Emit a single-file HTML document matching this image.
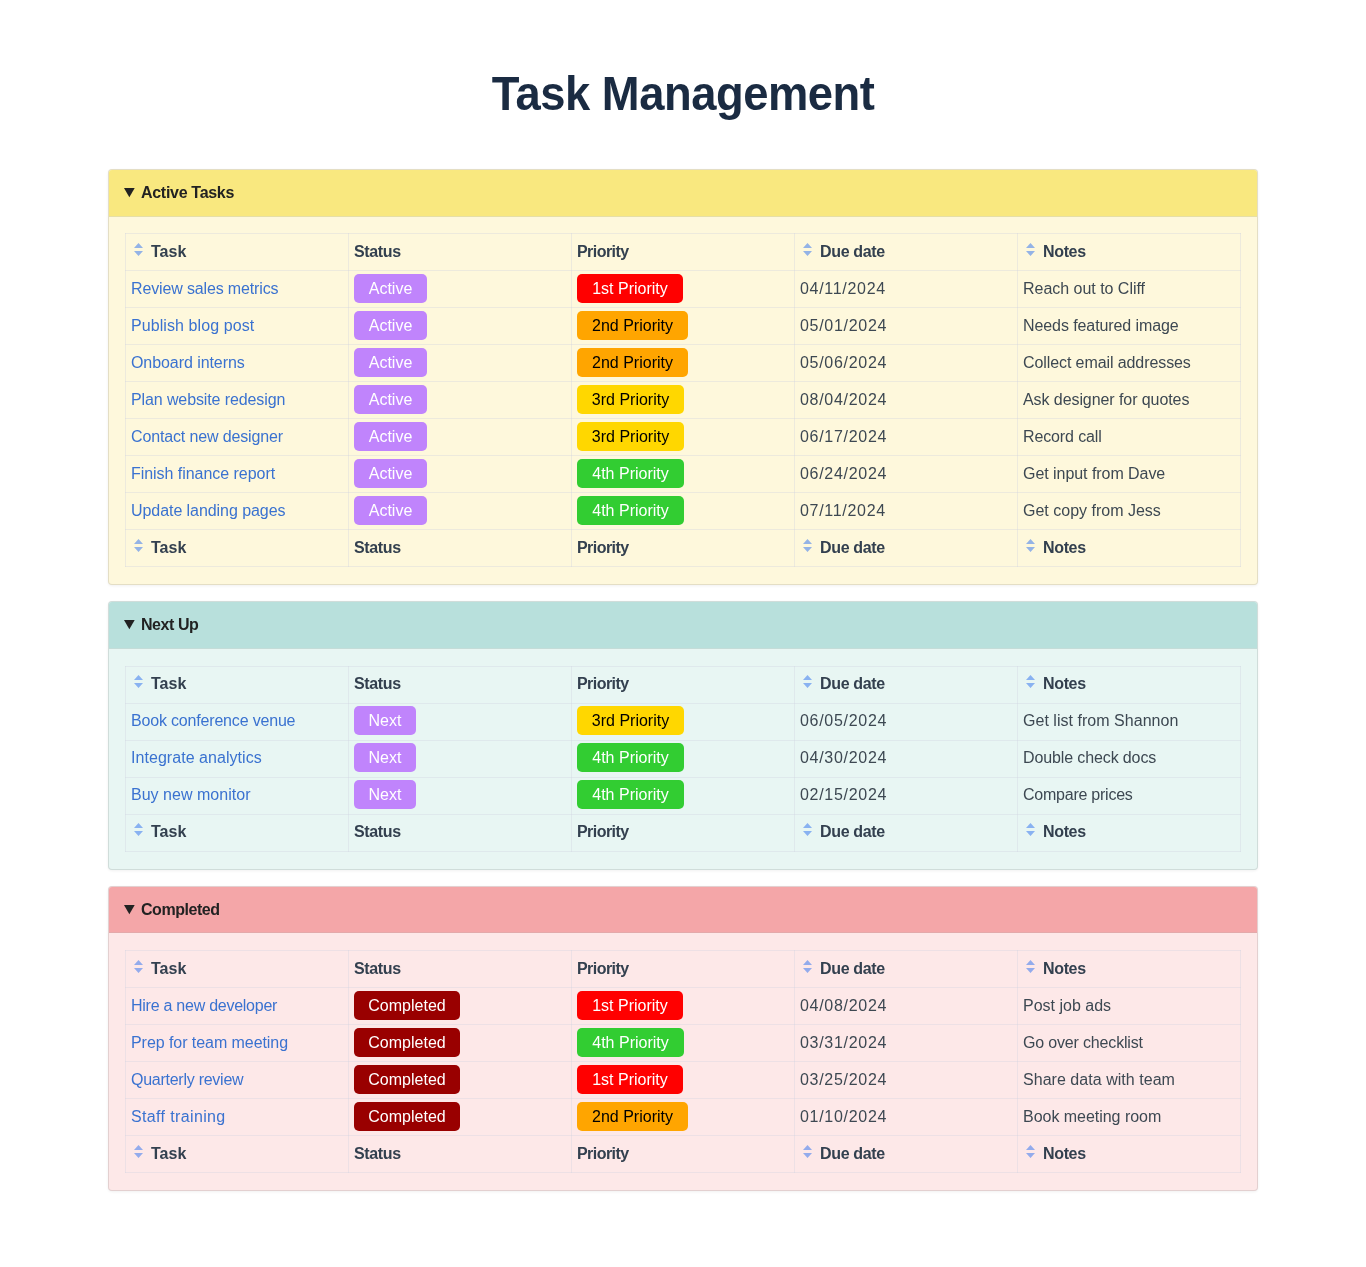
<!DOCTYPE html><html lang="en"><head><meta charset="utf-8"><title>Task Management</title><style>
*{box-sizing:border-box}
html,body{margin:0;padding:0;background:#fff}
body{font-family:"Liberation Sans",sans-serif;font-size:16px;color:#3d4852;width:1366px;height:1267px;overflow:hidden;position:relative}
h1{position:absolute;left:0;top:64px;width:1366px;margin:0;text-align:center;font-size:47.5px;line-height:60px;font-weight:bold;color:#1a2b42;letter-spacing:-0.5px;transform:scaleX(.955);transform-origin:683px 0}
.card{position:absolute;left:108px;width:1150px;border:1px solid rgba(0,0,0,.1);border-radius:4px;box-shadow:0 1px 3px rgba(0,0,0,.06);overflow:hidden}
.card.y{top:169px;height:416px;background:#fef8dc}
.card.t{top:601px;height:269px;background:#e8f6f3}
.card.r{top:886px;height:305px;background:#fde8e8}
.sum{height:47px;display:flex;align-items:center;padding:0 0 1px 15px;font-weight:bold;font-size:16px;color:#222;letter-spacing:-0.3px;border-bottom:1px solid}
.y .sum{background:#f9e87f;border-color:#e6dfa6}
.t .sum{background:#b8e0dc;border-color:#c4dcd8}
.r .sum{background:#f4a6a8;border-color:#e3a9aa;height:46px;margin-bottom:1px;padding-bottom:0}
.tri{margin-right:6px;fill:#222;position:relative;top:0}
.body{padding:16px}
.t .body{padding-top:17px}
table{border-collapse:collapse;width:1116px;table-layout:fixed}
th,td{border:1px solid rgba(208,212,224,.36);height:37px;padding:0 5px;text-align:left;vertical-align:middle;white-space:nowrap;overflow:hidden}
th{font-weight:bold;color:#33404f;letter-spacing:-0.35px}
.so{margin:0 8px 0 3px;position:relative;top:-1px}
a{color:#3a72d0;text-decoration:none}
.d{letter-spacing:.7px}
.bd{display:inline-block;height:29px;line-height:29px;text-align:center;border-radius:5px;font-weight:normal;color:#fff;vertical-align:middle;position:relative;top:-1px}
.pa{background:#c084fc;width:73px}
.nx{background:#c084fc;width:62px}
.co{background:#990000;width:106px}
.p1{background:#ff0000;width:106px}
.p2{background:#ffa500;color:#000;width:111px}
.p3{background:#ffd700;color:#000;width:107px}
.p4{background:#32cd32;width:107px}
.t th,.t td{padding-bottom:2px}

</style></head><body>
<h1>Task Management</h1>
<section class="card y"><div class="sum"><svg class="tri" width="11" height="10" viewBox="0 0 11 10"><path d="M0 0 H10.7 L5.35 9.2 Z"/></svg><span>Active Tasks</span></div><div class="body"><table>
<tr class="h"><th><svg class="so" width="9" height="13" viewBox="0 0 9 13"><path d="M4.5 0 L9 5 H0 Z M4.5 13 L9 8 H0 Z" fill="#3273f0" fill-opacity=".52"/></svg><span style="letter-spacing:0">Task</span></th><th><span>Status</span></th><th><span style="letter-spacing:-.55px">Priority</span></th><th><svg class="so" width="9" height="13" viewBox="0 0 9 13"><path d="M4.5 0 L9 5 H0 Z M4.5 13 L9 8 H0 Z" fill="#3273f0" fill-opacity=".52"/></svg><span>Due date</span></th><th><svg class="so" width="9" height="13" viewBox="0 0 9 13"><path d="M4.5 0 L9 5 H0 Z M4.5 13 L9 8 H0 Z" fill="#3273f0" fill-opacity=".52"/></svg><span>Notes</span></th></tr>
<tr><td><a href="#" style="letter-spacing:-0.142px">Review sales metrics</a></td><td><b class="bd pa">Active</b></td><td><b class="bd p1">1st Priority</b></td><td class="d">04/11/2024</td><td class="n"><span style="letter-spacing:-0.024px">Reach out to Cliff</span></td></tr>
<tr><td><a href="#" style="letter-spacing:0.081px">Publish blog post</a></td><td><b class="bd pa">Active</b></td><td><b class="bd p2">2nd Priority</b></td><td class="d">05/01/2024</td><td class="n"><span style="letter-spacing:-0.089px">Needs featured image</span></td></tr>
<tr><td><a href="#" style="letter-spacing:-0.071px">Onboard interns</a></td><td><b class="bd pa">Active</b></td><td><b class="bd p2">2nd Priority</b></td><td class="d">05/06/2024</td><td class="n"><span style="letter-spacing:-0.091px">Collect email addresses</span></td></tr>
<tr><td><a href="#" style="letter-spacing:-0.11px">Plan website redesign</a></td><td><b class="bd pa">Active</b></td><td><b class="bd p3">3rd Priority</b></td><td class="d">08/04/2024</td><td class="n"><span style="letter-spacing:-0.077px">Ask designer for quotes</span></td></tr>
<tr><td><a href="#" style="letter-spacing:-0.137px">Contact new designer</a></td><td><b class="bd pa">Active</b></td><td><b class="bd p3">3rd Priority</b></td><td class="d">06/17/2024</td><td class="n"><span style="letter-spacing:-0.12px">Record call</span></td></tr>
<tr><td><a href="#" style="letter-spacing:-0.04px">Finish finance report</a></td><td><b class="bd pa">Active</b></td><td><b class="bd p4">4th Priority</b></td><td class="d">06/24/2024</td><td class="n"><span style="letter-spacing:-0.05px">Get input from Dave</span></td></tr>
<tr><td><a href="#" style="letter-spacing:-0.063px">Update landing pages</a></td><td><b class="bd pa">Active</b></td><td><b class="bd p4">4th Priority</b></td><td class="d">07/11/2024</td><td class="n"><span>Get copy from Jess</span></td></tr>
<tr class="h"><th><svg class="so" width="9" height="13" viewBox="0 0 9 13"><path d="M4.5 0 L9 5 H0 Z M4.5 13 L9 8 H0 Z" fill="#3273f0" fill-opacity=".52"/></svg><span style="letter-spacing:0">Task</span></th><th><span>Status</span></th><th><span style="letter-spacing:-.55px">Priority</span></th><th><svg class="so" width="9" height="13" viewBox="0 0 9 13"><path d="M4.5 0 L9 5 H0 Z M4.5 13 L9 8 H0 Z" fill="#3273f0" fill-opacity=".52"/></svg><span>Due date</span></th><th><svg class="so" width="9" height="13" viewBox="0 0 9 13"><path d="M4.5 0 L9 5 H0 Z M4.5 13 L9 8 H0 Z" fill="#3273f0" fill-opacity=".52"/></svg><span>Notes</span></th></tr>
</table></div></section>
<section class="card t"><div class="sum"><svg class="tri" width="11" height="10" viewBox="0 0 11 10"><path d="M0 0 H10.7 L5.35 9.2 Z"/></svg><span style="letter-spacing:-0.45px">Next Up</span></div><div class="body"><table>
<tr class="h"><th><svg class="so" width="9" height="13" viewBox="0 0 9 13"><path d="M4.5 0 L9 5 H0 Z M4.5 13 L9 8 H0 Z" fill="#3273f0" fill-opacity=".52"/></svg><span style="letter-spacing:0">Task</span></th><th><span>Status</span></th><th><span style="letter-spacing:-.55px">Priority</span></th><th><svg class="so" width="9" height="13" viewBox="0 0 9 13"><path d="M4.5 0 L9 5 H0 Z M4.5 13 L9 8 H0 Z" fill="#3273f0" fill-opacity=".52"/></svg><span>Due date</span></th><th><svg class="so" width="9" height="13" viewBox="0 0 9 13"><path d="M4.5 0 L9 5 H0 Z M4.5 13 L9 8 H0 Z" fill="#3273f0" fill-opacity=".52"/></svg><span>Notes</span></th></tr>
<tr><td><a href="#" style="letter-spacing:-0.18px">Book conference venue</a></td><td><b class="bd nx">Next</b></td><td><b class="bd p3">3rd Priority</b></td><td class="d">06/05/2024</td><td class="n"><span style="letter-spacing:0.03px">Get list from Shannon</span></td></tr>
<tr><td><a href="#" style="letter-spacing:0.05px">Integrate analytics</a></td><td><b class="bd nx">Next</b></td><td><b class="bd p4">4th Priority</b></td><td class="d">04/30/2024</td><td class="n"><span style="letter-spacing:-0.119px">Double check docs</span></td></tr>
<tr><td><a href="#" style="letter-spacing:0.021px">Buy new monitor</a></td><td><b class="bd nx">Next</b></td><td><b class="bd p4">4th Priority</b></td><td class="d">02/15/2024</td><td class="n"><span style="letter-spacing:-0.238px">Compare prices</span></td></tr>
<tr class="h"><th><svg class="so" width="9" height="13" viewBox="0 0 9 13"><path d="M4.5 0 L9 5 H0 Z M4.5 13 L9 8 H0 Z" fill="#3273f0" fill-opacity=".52"/></svg><span style="letter-spacing:0">Task</span></th><th><span>Status</span></th><th><span style="letter-spacing:-.55px">Priority</span></th><th><svg class="so" width="9" height="13" viewBox="0 0 9 13"><path d="M4.5 0 L9 5 H0 Z M4.5 13 L9 8 H0 Z" fill="#3273f0" fill-opacity=".52"/></svg><span>Due date</span></th><th><svg class="so" width="9" height="13" viewBox="0 0 9 13"><path d="M4.5 0 L9 5 H0 Z M4.5 13 L9 8 H0 Z" fill="#3273f0" fill-opacity=".52"/></svg><span>Notes</span></th></tr>
</table></div></section>
<section class="card r"><div class="sum"><svg class="tri" width="11" height="10" viewBox="0 0 11 10"><path d="M0 0 H10.7 L5.35 9.2 Z"/></svg><span style="letter-spacing:-0.45px">Completed</span></div><div class="body"><table>
<tr class="h"><th><svg class="so" width="9" height="13" viewBox="0 0 9 13"><path d="M4.5 0 L9 5 H0 Z M4.5 13 L9 8 H0 Z" fill="#3273f0" fill-opacity=".52"/></svg><span style="letter-spacing:0">Task</span></th><th><span>Status</span></th><th><span style="letter-spacing:-.55px">Priority</span></th><th><svg class="so" width="9" height="13" viewBox="0 0 9 13"><path d="M4.5 0 L9 5 H0 Z M4.5 13 L9 8 H0 Z" fill="#3273f0" fill-opacity=".52"/></svg><span>Due date</span></th><th><svg class="so" width="9" height="13" viewBox="0 0 9 13"><path d="M4.5 0 L9 5 H0 Z M4.5 13 L9 8 H0 Z" fill="#3273f0" fill-opacity=".52"/></svg><span>Notes</span></th></tr>
<tr><td><a href="#" style="letter-spacing:-0.253px">Hire a new developer</a></td><td><b class="bd co">Completed</b></td><td><b class="bd p1">1st Priority</b></td><td class="d">04/08/2024</td><td class="n"><span>Post job ads</span></td></tr>
<tr><td><a href="#" style="letter-spacing:-0.06px">Prep for team meeting</a></td><td><b class="bd co">Completed</b></td><td><b class="bd p4">4th Priority</b></td><td class="d">03/31/2024</td><td class="n"><span style="letter-spacing:-0.169px">Go over checklist</span></td></tr>
<tr><td><a href="#" style="letter-spacing:-0.26px">Quarterly review</a></td><td><b class="bd co">Completed</b></td><td><b class="bd p1">1st Priority</b></td><td class="d">03/25/2024</td><td class="n"><span style="letter-spacing:0.037px">Share data with team</span></td></tr>
<tr><td><a href="#" style="letter-spacing:0.362px">Staff training</a></td><td><b class="bd co">Completed</b></td><td><b class="bd p2">2nd Priority</b></td><td class="d">01/10/2024</td><td class="n"><span style="letter-spacing:-0.031px">Book meeting room</span></td></tr>
<tr class="h"><th><svg class="so" width="9" height="13" viewBox="0 0 9 13"><path d="M4.5 0 L9 5 H0 Z M4.5 13 L9 8 H0 Z" fill="#3273f0" fill-opacity=".52"/></svg><span style="letter-spacing:0">Task</span></th><th><span>Status</span></th><th><span style="letter-spacing:-.55px">Priority</span></th><th><svg class="so" width="9" height="13" viewBox="0 0 9 13"><path d="M4.5 0 L9 5 H0 Z M4.5 13 L9 8 H0 Z" fill="#3273f0" fill-opacity=".52"/></svg><span>Due date</span></th><th><svg class="so" width="9" height="13" viewBox="0 0 9 13"><path d="M4.5 0 L9 5 H0 Z M4.5 13 L9 8 H0 Z" fill="#3273f0" fill-opacity=".52"/></svg><span>Notes</span></th></tr>
</table></div></section>
</body></html>
